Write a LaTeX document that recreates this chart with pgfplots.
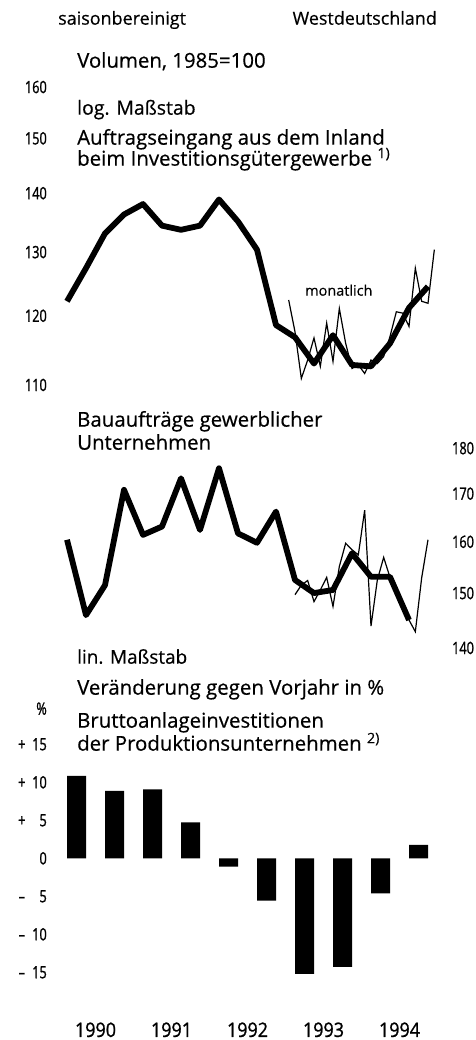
\documentclass[border=0pt]{standalone}
\usepackage{fontspec}
\setmainfont[FakeBold=0.5]{Open Sans}
\newfontfamily\tickfont[FakeStretch=0.75,FakeBold=1.2]{Open Sans}
\newfontfamily\yearfont[FakeStretch=0.9,FakeBold=1.0]{Open Sans}
\usepackage{pgfplots}
\pgfplotsset{compat=1.18}

\pgfplotstableread{
m v
1 122.2
4 127.4
7 133.1
10 136.3
13 138.1
16 134.4
19 133.7
22 134.4
25 138.9
28 135.1
31 130.4
34 118.6
37 116.8
40 113.0
43 117.1
46 112.8
49 112.6
52 115.9
55 121.2
58 124.5
}\topq
\pgfplotstableread{
m v
36 122.4
37 117.6
38 110.9
39 113.5
40 116.7
41 112.6
42 118.9
43 113.3
44 121.1
45 115.9
46 112.3
47 112.8
48 111.6
49 113.5
50 113.0
51 114.0
52 116.9
53 120.6
54 120.4
55 118.4
56 127.4
57 122.2
58 121.9
59 130.4
}\topm
\pgfplotstableread{
m v
1 160.4
4 145.9
7 151.5
10 170.8
13 161.4
16 163.1
19 173.3
22 162.4
25 175.5
28 161.7
31 159.8
34 166.2
37 152.5
40 150.0
43 150.6
46 157.7
49 153.1
52 153.1
55 145.0
}\midq
\pgfplotstableread{
m v
37 149.7
38 151.5
39 152.4
40 148.4
41 150.6
42 153.0
43 147.5
44 155.1
45 159.7
46 158.4
47 157.4
48 166.5
49 143.9
50 152.5
51 156.9
52 153.0
53 150.0
54 147.4
55 145.0
56 142.9
57 152.9
58 160.4
}\midm
\pgfplotstableread{
m v
2.5 10.83
8.5 8.86
14.5 9.08
20.5 4.74
26.5 -1.1
32.5 -5.58
38.5 -15.2
44.5 -14.3
50.5 -4.6
56.5 1.75
}\bars

\newcommand{\tl}[2]{\makebox[10bp][c]{#1}\makebox[20bp][r]{#2}}

\begin{document}
\begin{tikzpicture}
\path[use as bounding box] (0bp,0bp) rectangle (476bp,1040bp);
\pgfplotsset{myaxis/.style={scale only axis, width=380bp, xmin=0, xmax=60,
  axis line style={draw=none}, tick style={draw=none}, clip=false,
  ticklabel style={font=\tickfont\fontsize{17}{17}\selectfont, inner sep=0pt}}}

% top chart
\begin{axis}[myaxis, at={(60.67bp,655bp)}, anchor=south west, height=297.9bp,
  ymode=log, ymin=110, ymax=160, xtick=\empty,
  ytick={110,120,130,140,150,160}, yticklabels={110,120,130,140,150,160},
  yticklabel style={anchor=east, xshift=-13.7bp}]
\addplot[black, line width=5.8bp, line join=round] table[x=m,y=v] {\topq};
\addplot[black, line width=1.2bp, line join=miter] table[x=m,y=v] {\topm};
\end{axis}

% middle chart
\begin{axis}[myaxis, at={(60.67bp,392bp)}, anchor=south west, height=199.8bp,
  ymode=log, ymin=140, ymax=180, xtick=\empty,
  ytick={140,150,160,170,180}, yticklabels={140,150,160,170,180},
  yticklabel pos=right,
  yticklabel style={anchor=west, xshift=11.3bp}]
\addplot[black, line width=5.8bp, line join=round] table[x=m,y=v] {\midq};
\addplot[black, line width=1.2bp, line join=miter] table[x=m,y=v] {\midm};
\end{axis}

% bar chart
\begin{axis}[myaxis, at={(60.67bp,67.7bp)}, anchor=south west, height=228bp,
  ymin=-15, ymax=15,
  ytick={-15,-10,-5,0,5,10,15},
  yticklabels={\tl{–}{15},\tl{–}{10},\tl{–}{5},0,\tl{+}{5},\tl{+}{10},\tl{+}{15}},
  yticklabel style={anchor=east, xshift=-13.7bp},
  xtick={5.5,17.5,29.5,41.5,53.5},
  xticklabels={1990,1991,1992,1993,1994},
  xticklabel style={anchor=north, yshift=-50bp, font=\yearfont\fontsize{20}{20}\selectfont}]
\addplot[ybar, bar width=19bp, fill=black, draw=none] table[x=m,y=v] {\bars};
\end{axis}

\begin{scope}[every node/.style={inner sep=0pt, font=\fontsize{20.5}{22}\selectfont}]
\node[anchor=mid west, font=\fontsize{18}{20}\selectfont] at (58bp,1018bp) {saisonbereinigt};
\node[anchor=mid east, font=\fontsize{18}{20}\selectfont] at (437bp,1018bp) {Westdeutschland};
\node[anchor=mid west] at (77bp,975bp) {Volumen, 1985=100};
\node[anchor=mid west, font=\fontsize{19.5}{22}\selectfont] at (77bp,928bp) {log. Maßstab};
\node[anchor=mid west] at (77bp,898bp) {Auftragseingang aus dem Inland};
\node[anchor=mid west] at (77bp,877bp) {beim Investitionsgütergewerbe \textsuperscript{1)}};
\node[anchor=mid west, font=\fontsize{14.5}{16}\selectfont] at (305bp,747bp) {monatlich};
\node[anchor=mid west] at (77bp,616bp) {Bauaufträge gewerblicher};
\node[anchor=mid west] at (77bp,593bp) {Unternehmen};
\node[anchor=mid west, font=\fontsize{19}{22}\selectfont] at (77bp,379bp) {lin. Maßstab};
\node[anchor=mid west] at (77bp,348bp) {Veränderung gegen Vorjahr in \%};
\node[anchor=mid east, font=\tickfont\fontsize{17}{17}\selectfont] at (47bp,328bp) {\%};
\node[anchor=mid west] at (77bp,315bp) {Bruttoanlageinvestitionen};
\node[anchor=mid west] at (77bp,292bp) {der Produktionsunternehmen \textsuperscript{2)}};
\end{scope}
\end{tikzpicture}
\end{document}
